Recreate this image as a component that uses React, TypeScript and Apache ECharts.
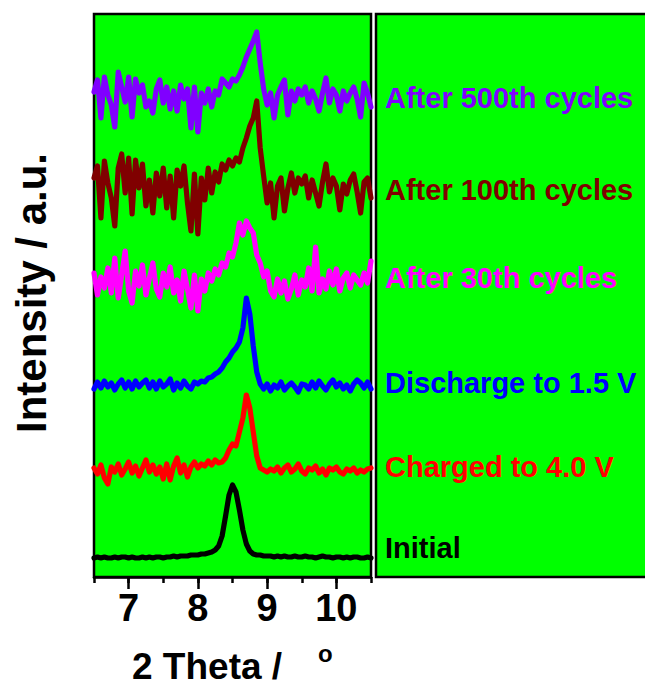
import React, { useEffect, useRef } from "react";
import * as echarts from "echarts";

// 2θ sampling (degrees)
const twoTheta = [
  6.5, 6.55, 6.6, 6.65, 6.7, 6.75, 6.8, 6.85, 6.9, 6.95,
  7.0, 7.05, 7.1, 7.15, 7.2, 7.25, 7.3, 7.35, 7.4, 7.45,
  7.5, 7.55, 7.6, 7.65, 7.7, 7.75, 7.8, 7.85, 7.9, 7.95,
  8.0, 8.05, 8.1, 8.15, 8.2, 8.25, 8.3, 8.35, 8.4, 8.45,
  8.5, 8.55, 8.6, 8.65, 8.7, 8.75, 8.8, 8.85, 8.9, 8.95,
  9.0, 9.05, 9.1, 9.15, 9.2, 9.25, 9.3, 9.35, 9.4, 9.45,
  9.5, 9.55, 9.6, 9.65, 9.7, 9.75, 9.8, 9.85, 9.9, 9.95,
  10.0, 10.05, 10.1, 10.15, 10.2, 10.25, 10.3, 10.35, 10.4, 10.45,
  10.5,
];

const initial = [
  0, 1, 0, 1, 0, 0, 1, 0, 1, 1, 0, 1, 0, 0, 1, 0, 1, 0, 1, 1,
  0, 1, 1, 2, 1, 2, 2, 2, 3, 3,
  3, 4, 4, 5, 6, 8, 12, 22, 42, 63, 73, 66, 48, 28, 14, 7, 4,
  3, 3, 2, 2, 2, 1, 2, 1, 2, 1, 1, 2, 1, 1, 2, 1, 1, 0, 1, 2,
  1, 1, 0, 1, 1, 0, 1, 0, 1, 1, 0, 0, 1, 0,
];

const charged = [
  2, -4, 5, -8, -14, 3, -2, 6, -5, 1, 8, -3, 4, -6, 2, 10, -2, 5, -4, 3,
  -9, 6, -10, 4, 12, -3, 5, -7, 3, 8,
  2, 6, 4, 9, 5, 10, 7, 8, 12, 20, 26, 24, 38, 52, 75, 62, 38, 14, 2,
  0, -2, 1, -1, 3, -3, 2, 5, -2, 1, 6, -1, -4, 2, 0, 4, -3, 1, -5, 2,
  0, 3, -2, -4, 1, -1, 2, -3, 0, -2, 1, 2,
];

const discharged = [
  -3, 4, -2, 5, -1, 3, -4, 2, 6, -2, 4, -3, 5, -1, 3, 6, -2, 4, -3, 5,
  -1, 2, 7, -4, 3, -2, 5, 0, -3, 4,
  2, 5, 4, 8, 9, 12, 14, 18, 24, 28, 34, 38, 44, 58, 88, 72, 40, 14, 2,
  -3, 2, -5, 1, -2, 4, -4, 0, 3, -1, -6, 2, 1, -3, 4, -2, 5, 0, -4, 2,
  6, -1, 3, -3, 1, -5, 2, 6, 3, -2, 4, -3,
];

const cycles30 = [
  10, -12, 6, -5, 15, -10, 25, -15, 8, 32, -8, -20, 12, -3, 18, -12, 5, 20, -6, -14,
  10, -4, 16, -10, 3, -18, 12, -6, -25, 8,
  -28, 4, -8, 10, 2, 14, 8, 20, 16, 30, 26, 40, 60, 48, 62, 55, 50, 28, 20, 6,
  12, -8, -14, 4, -10, 2, -16, -6, 8, -12, 3, -4, 15, -8, 36, -10, 4, -6, 12, -2,
  14, -8, 5, 10, -5, 8, 3, -2, 10, 0, 22,
];

const cycles100 = [
  10, 22, -30, 27, 5, -10, -38, 20, 34, -5, 30, -26, 28, 0, 24, -18, 8, -25, 15, -8,
  20, -20, 12, -30, 18, 2, 22, -15, -43, 14,
  -46, 10, -12, 20, -5, 16, 6, 24, 18, 28, 22, 30, 26, 40, 50, 62, 70, 87, 40, 12,
  -15, 5, -30, 2, 10, -23, 0, 15, -5, 10, 4, 12, -10, 8, -5, -18, 6, 24, -4, 10,
  2, -22, 4, -6, 8, 14, -4, -25, 6, 10, -10,
];

const cycles500 = [
  5, 17, -21, 20, 2, -8, -30, 25, 10, -5, 20, -20, 18, 4, 12, -10, -4, -16, 8, 17,
  -6, 10, -12, 6, -14, 12, -2, 8, -31, 10,
  -35, 4, -6, 8, -10, 6, 2, 18, 14, 10, 18, 16, 22, 30, 40, 48, 56, 65, 34, 8,
  -8, 4, -21, 2, 10, 17, -18, 6, -4, 8, 2, 10, -6, 6, -2, -14, 4, 19, -6, 8,
  2, -14, 6, -4, 4, 10, -2, -20, 14, 4, -10,
];

const seriesNames = [
  "Initial",
  "Charged to 4.0 V",
  "Discharge to 1.5 V",
  "After 30th cycles",
  "After 100th cycles",
  "After 500th cycles",
];
const seriesValues = [initial, charged, discharged, cycles30, cycles100, cycles500];
const stackOffsets = [19, 107, 191, 294, 389, 480];
const seriesColors = ["#000000", "#ff0000", "#0000ff", "#ff00ff", "#800000", "#8000ff"];
const labelY = [548, 467, 383, 278, 190, 98];

const xMajorTicks = [7, 8, 9, 10];

const FONT = "'Liberation Sans', Arial, Helvetica, sans-serif";
const GREEN = "#00ff00";

export default function App() {
  const ref = useRef<HTMLDivElement>(null);

  useEffect(() => {
    if (!ref.current) return;
    const chart = echarts.init(ref.current, undefined, { renderer: "svg" });

    const series = seriesValues.map((vals, s) => ({
      type: "line",
      name: seriesNames[s],
      xAxisIndex: 0,
      yAxisIndex: 0,
      showSymbol: false,
      symbol: "none",
      smooth: false,
      data: twoTheta.map((x, i) => [x, stackOffsets[s] + vals[i]]),
      lineStyle: { color: seriesColors[s], width: 5.2, join: "round", cap: "round" },
      itemStyle: { color: seriesColors[s] },
      z: 3,
    }));

    const labelTexts = seriesNames.map((name, s) => ({
      type: "text",
      x: 385,
      y: labelY[s],
      z: 10,
      style: {
        text: name,
        fill: seriesColors[s],
        font: `bold 29px ${FONT}`,
        textAlign: "left",
        textVerticalAlign: "middle",
      },
    }));

    chart.setOption({
      animation: false,
      backgroundColor: "#ffffff",
      grid: {
        left: 94,
        right: 274,
        top: 14,
        bottom: 111,
        show: true,
        backgroundColor: GREEN,
        borderColor: "#000",
        borderWidth: 2.5,
        containLabel: false,
      },
      xAxis: [
        {
          type: "value",
          min: 6.5,
          max: 10.5,
          interval: 0.5,
          position: "bottom",
          axisLine: { show: true, lineStyle: { color: "#000", width: 2.5 } },
          axisTick: { show: true, length: 6, lineStyle: { color: "#000", width: 2.5 } },
          axisLabel: {
            show: true,
            color: "#000",
            fontSize: 38,
            fontWeight: "bold",
            fontFamily: FONT,
            margin: 12,
            formatter: (v: number) => (xMajorTicks.includes(v) ? String(v) : ""),
          },
          splitLine: { show: false },
        },
        {
          type: "value",
          min: 6.5,
          max: 10.5,
          position: "bottom",
          offset: 0,
          axisLine: { show: false },
          axisTick: {
            show: true,
            customValues: xMajorTicks,
            length: 12,
            lineStyle: { color: "#000", width: 2.5 },
          },
          axisLabel: { show: false },
          splitLine: { show: false },
        },
      ],
      yAxis: {
        type: "value",
        min: 0,
        max: 563,
        show: false,
        splitLine: { show: false },
      },
      series,
      graphic: [
        {
          type: "rect",
          z: 1,
          shape: { x: 376, y: 14, width: 290, height: 563 },
          style: { fill: GREEN, stroke: "#000", lineWidth: 2.5 },
        },
        ...labelTexts,
        {
          type: "text",
          x: 31,
          y: 293,
          rotation: Math.PI / 2,
          style: {
            text: "Intensity / a.u.",
            fill: "#000",
            font: `bold 42px ${FONT}`,
            textAlign: "center",
            textVerticalAlign: "middle",
          },
        },
        {
          type: "text",
          x: 132,
          y: 666,
          style: {
            text: "2 Theta / ",
            fill: "#000",
            font: `bold 37px ${FONT}`,
            textAlign: "left",
            textVerticalAlign: "middle",
          },
        },
        {
          type: "text",
          x: 318,
          y: 653,
          style: {
            text: "o",
            fill: "#000",
            font: `bold 24px ${FONT}`,
            textAlign: "left",
            textVerticalAlign: "middle",
          },
        },
      ],
    });

    return () => chart.dispose();
  }, []);

  return (
    <div
      ref={ref}
      style={{ position: "fixed", left: 0, top: 0, width: 645, height: 688 }}
    />
  );
}
